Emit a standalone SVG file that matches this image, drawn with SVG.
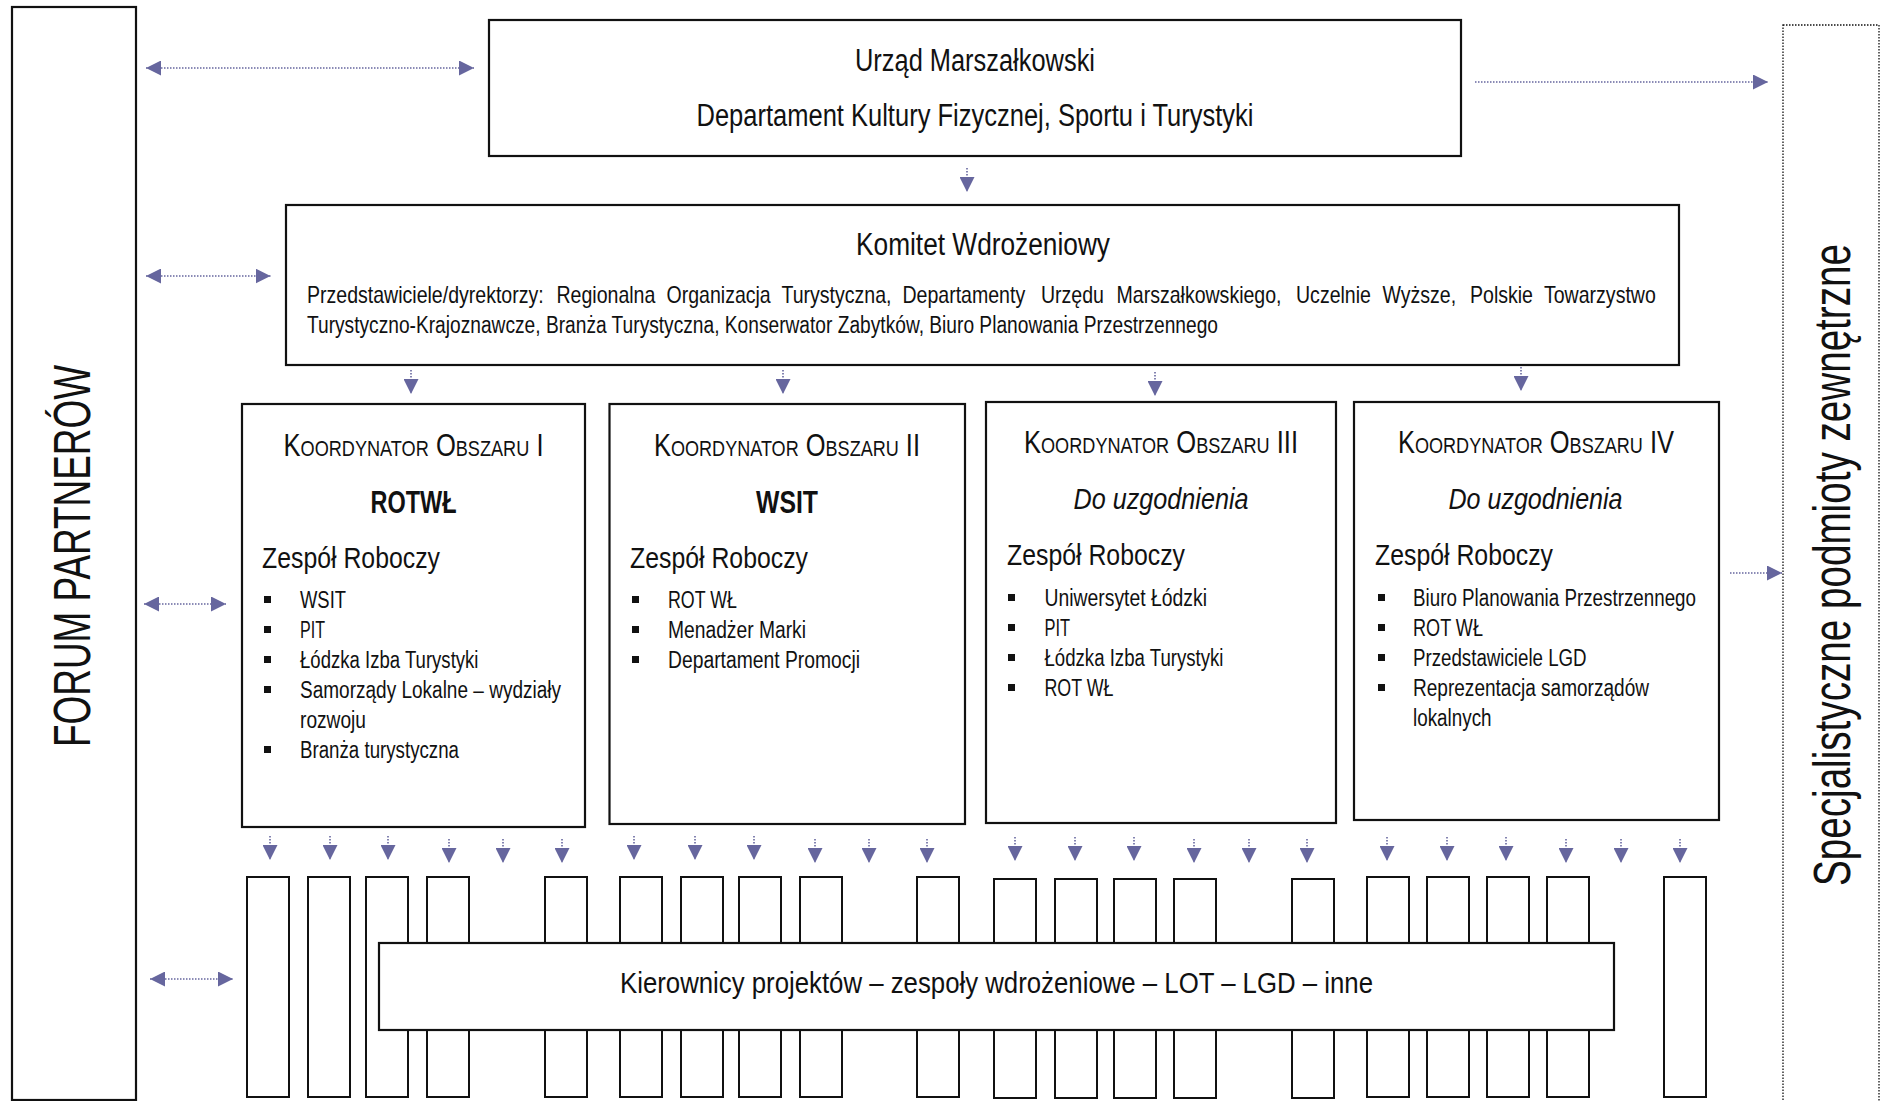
<svg xmlns="http://www.w3.org/2000/svg" width="1883" height="1101" viewBox="0 0 1883 1101">
<style>
  .box { fill: #fff; stroke: #111; stroke-width: 2.2; }
  .bar { fill: #fff; stroke: #111; stroke-width: 2; }
  .t { font-family: "Liberation Sans Narrow", "Liberation Sans", Arial, sans-serif; fill: #111; }
  .sc { font-variant: small-caps; font-size: 31px; }
  .p { font-size: 23px; }
  .v { font-family: "Liberation Sans Narrow", "Liberation Sans", Arial, sans-serif; fill: #111; font-size: 51px; }
  .c { stroke: #66669e; stroke-width: 1.6; stroke-dasharray: 1.5 1.5; fill: none; }
  .bul { fill: #111; }
</style>
<defs>
  <marker id="ah" viewBox="0 0 15 15" refX="15" refY="7.5" markerWidth="15" markerHeight="15" markerUnits="userSpaceOnUse" orient="auto-start-reverse">
    <path d="M0,0 L15,7.5 L0,15 z" fill="#66669e"/>
  </marker>
</defs>

<g id="forum">
  <rect class="box" x="12" y="7" width="124" height="1093" stroke-width="2"/>
  <text class="v" transform="translate(90,747) rotate(-90)" x="0" y="0" textLength="382" lengthAdjust="spacingAndGlyphs">FORUM PARTNERÓW</text>
</g>

<g id="specjalistyczne">
  <rect x="1783" y="25" width="96" height="1085" fill="none" stroke="#111" stroke-width="1.3" stroke-dasharray="1.5 1.5"/>
  <text class="v" transform="translate(1850,886) rotate(-90)" x="0" y="0" textLength="642" lengthAdjust="spacingAndGlyphs">Specjalistyczne podmioty zewnętrzne</text>
</g>

<g id="urzad">
  <rect class="box" x="489" y="20" width="972" height="136"/>
  <text class="t" x="975" y="71" font-size="31" text-anchor="middle" textLength="240" lengthAdjust="spacingAndGlyphs">Urząd Marszałkowski</text>
  <text class="t" x="975" y="126" font-size="31" text-anchor="middle" textLength="557" lengthAdjust="spacingAndGlyphs">Departament Kultury Fizycznej, Sportu i Turystyki</text>
</g>

<g id="komitet">
  <rect class="box" x="286" y="205" width="1393" height="160"/>
  <text class="t" x="983" y="255" font-size="31" text-anchor="middle" textLength="254" lengthAdjust="spacingAndGlyphs">Komitet Wdrożeniowy</text>
  <g transform="translate(0,303) scale(0.85,1)">
    <text class="t p" x="361.18" y="0">Przedstawiciele/dyrektorzy:</text>
    <text class="t p" x="654.71" y="0">Regionalna</text>
    <text class="t p" x="784.12" y="0">Organizacja</text>
    <text class="t p" x="919.41" y="0">Turystyczna,</text>
    <text class="t p" x="1061.76" y="0">Departamenty</text>
    <text class="t p" x="1224.71" y="0">Urzędu</text>
    <text class="t p" x="1313.53" y="0">Marszałkowskiego,</text>
    <text class="t p" x="1524.71" y="0">Uczelnie</text>
    <text class="t p" x="1626.47" y="0">Wyższe,</text>
    <text class="t p" x="1729.41" y="0">Polskie</text>
    <text class="t p" x="1816.47" y="0">Towarzystwo</text>
  </g>
  <text class="t p" x="307" y="333" textLength="911" lengthAdjust="spacingAndGlyphs">Turystyczno-Krajoznawcze, Branża Turystyczna,  Konserwator Zabytków, Biuro Planowania Przestrzennego</text>
</g>

<g id="koordynator1">
  <rect class="box" x="242" y="404" width="343" height="423"/>
  <text class="t sc" x="413.5" y="456" text-anchor="middle" textLength="260" lengthAdjust="spacingAndGlyphs">Koordynator Obszaru I</text>
  <text class="t" x="413.5" y="513" text-anchor="middle" font-size="31" font-weight="bold" textLength="86" lengthAdjust="spacingAndGlyphs">ROTWŁ</text>
  <text class="t" x="262" y="568" font-size="30" textLength="178" lengthAdjust="spacingAndGlyphs">Zespół Roboczy</text>
  <rect class="bul" x="264" y="596" width="7" height="7"/>
  <text class="t p" x="300" y="608" textLength="46" lengthAdjust="spacingAndGlyphs">WSIT</text>
  <rect class="bul" x="264" y="626" width="7" height="7"/>
  <text class="t p" x="300" y="638" textLength="25" lengthAdjust="spacingAndGlyphs">PIT</text>
  <rect class="bul" x="264" y="656" width="7" height="7"/>
  <text class="t p" x="300" y="668" textLength="178.5" lengthAdjust="spacingAndGlyphs">Łódzka Izba Turystyki</text>
  <rect class="bul" x="264" y="686" width="7" height="7"/>
  <text class="t p" x="300" y="698" textLength="261" lengthAdjust="spacingAndGlyphs">Samorządy Lokalne – wydziały</text>
  <text class="t p" x="300" y="728" textLength="66" lengthAdjust="spacingAndGlyphs">rozwoju</text>
  <rect class="bul" x="264" y="746" width="7" height="7"/>
  <text class="t p" x="300" y="758" textLength="159" lengthAdjust="spacingAndGlyphs">Branża turystyczna</text>
</g>

<g id="koordynator2">
  <rect class="box" x="609.5" y="404" width="355.5" height="420"/>
  <text class="t sc" x="787" y="456" text-anchor="middle" textLength="266" lengthAdjust="spacingAndGlyphs">Koordynator Obszaru II</text>
  <text class="t" x="787" y="513" text-anchor="middle" font-size="31" font-weight="bold" textLength="62" lengthAdjust="spacingAndGlyphs">WSIT</text>
  <text class="t" x="630" y="568" font-size="30" textLength="178" lengthAdjust="spacingAndGlyphs">Zespół Roboczy</text>
  <rect class="bul" x="632" y="596" width="7" height="7"/>
  <text class="t p" x="668" y="608" textLength="69" lengthAdjust="spacingAndGlyphs">ROT WŁ</text>
  <rect class="bul" x="632" y="626" width="7" height="7"/>
  <text class="t p" x="668" y="638" textLength="138" lengthAdjust="spacingAndGlyphs">Menadżer Marki</text>
  <rect class="bul" x="632" y="656" width="7" height="7"/>
  <text class="t p" x="668" y="668" textLength="192" lengthAdjust="spacingAndGlyphs">Departament Promocji</text>
</g>

<g id="koordynator3">
  <rect class="box" x="986" y="402" width="350" height="421"/>
  <text class="t sc" x="1161" y="453" text-anchor="middle" textLength="274" lengthAdjust="spacingAndGlyphs">Koordynator Obszaru III</text>
  <text class="t" x="1161" y="509" text-anchor="middle" font-size="30" font-style="italic" textLength="175" lengthAdjust="spacingAndGlyphs">Do uzgodnienia</text>
  <text class="t" x="1007" y="565" font-size="30" textLength="178" lengthAdjust="spacingAndGlyphs">Zespół Roboczy</text>
  <rect class="bul" x="1008" y="594" width="7" height="7"/>
  <text class="t p" x="1044.5" y="606" textLength="162.5" lengthAdjust="spacingAndGlyphs">Uniwersytet Łódzki</text>
  <rect class="bul" x="1008" y="624" width="7" height="7"/>
  <text class="t p" x="1044.5" y="636" textLength="25.6" lengthAdjust="spacingAndGlyphs">PIT</text>
  <rect class="bul" x="1008" y="654" width="7" height="7"/>
  <text class="t p" x="1044.5" y="666" textLength="179" lengthAdjust="spacingAndGlyphs">Łódzka Izba Turystyki</text>
  <rect class="bul" x="1008" y="684" width="7" height="7"/>
  <text class="t p" x="1044.5" y="696" textLength="69" lengthAdjust="spacingAndGlyphs">ROT WŁ</text>
</g>

<g id="koordynator4">
  <rect class="box" x="1354" y="402" width="365" height="418"/>
  <text class="t sc" x="1536" y="453" text-anchor="middle" textLength="276" lengthAdjust="spacingAndGlyphs">Koordynator Obszaru IV</text>
  <text class="t" x="1535.5" y="509" text-anchor="middle" font-size="30" font-style="italic" textLength="174" lengthAdjust="spacingAndGlyphs">Do uzgodnienia</text>
  <text class="t" x="1375" y="565" font-size="30" textLength="178" lengthAdjust="spacingAndGlyphs">Zespół Roboczy</text>
  <rect class="bul" x="1378" y="594" width="7" height="7"/>
  <text class="t p" x="1413" y="606" textLength="283" lengthAdjust="spacingAndGlyphs">Biuro Planowania Przestrzennego</text>
  <rect class="bul" x="1378" y="624" width="7" height="7"/>
  <text class="t p" x="1413" y="636" textLength="70" lengthAdjust="spacingAndGlyphs">ROT WŁ</text>
  <rect class="bul" x="1378" y="654" width="7" height="7"/>
  <text class="t p" x="1413" y="666" textLength="173.6" lengthAdjust="spacingAndGlyphs">Przedstawiciele LGD</text>
  <rect class="bul" x="1378" y="684" width="7" height="7"/>
  <text class="t p" x="1413" y="696" textLength="236" lengthAdjust="spacingAndGlyphs">Reprezentacja samorządów</text>
  <text class="t p" x="1413" y="726" textLength="78.6" lengthAdjust="spacingAndGlyphs">lokalnych</text>
</g>

<g id="zespoly">
  <rect class="bar" x="247" y="877" width="42" height="220"/>
  <rect class="bar" x="308" y="877" width="42" height="220"/>
  <rect class="bar" x="366" y="877" width="42" height="220"/>
  <rect class="bar" x="427" y="877" width="42" height="220"/>
  <rect class="bar" x="545" y="877" width="42" height="220"/>
  <rect class="bar" x="620" y="877" width="42" height="220"/>
  <rect class="bar" x="681" y="877" width="42" height="220"/>
  <rect class="bar" x="739" y="877" width="42" height="220"/>
  <rect class="bar" x="800" y="877" width="42" height="220"/>
  <rect class="bar" x="917" y="877" width="42" height="220"/>
  <rect class="bar" x="994" y="879" width="42" height="219"/>
  <rect class="bar" x="1055" y="879" width="42" height="219"/>
  <rect class="bar" x="1114" y="879" width="42" height="219"/>
  <rect class="bar" x="1174" y="879" width="42" height="219"/>
  <rect class="bar" x="1292" y="879" width="42" height="219"/>
  <rect class="bar" x="1367" y="877" width="42" height="220"/>
  <rect class="bar" x="1427" y="877" width="42" height="220"/>
  <rect class="bar" x="1487" y="877" width="42" height="220"/>
  <rect class="bar" x="1547" y="877" width="42" height="220"/>
  <rect class="bar" x="1664" y="877" width="42" height="220"/>
</g>

<g id="kierownicy">
  <rect class="box" x="379" y="943" width="1235" height="87"/>
  <text class="t" x="996.5" y="993" text-anchor="middle" font-size="30" textLength="753" lengthAdjust="spacingAndGlyphs">Kierownicy projektów – zespoły wdrożeniowe – LOT – LGD – inne</text>
</g>

<g id="connectors">
  <line class="c" x1="146" y1="68" x2="474" y2="68" marker-start="url(#ah)" marker-end="url(#ah)"/>
  <line class="c" x1="146" y1="276" x2="270.5" y2="276" marker-start="url(#ah)" marker-end="url(#ah)"/>
  <line class="c" x1="144" y1="604" x2="226" y2="604" marker-start="url(#ah)" marker-end="url(#ah)"/>
  <line class="c" x1="150" y1="979" x2="233" y2="979" marker-start="url(#ah)" marker-end="url(#ah)"/>
  <line class="c" x1="1475" y1="82" x2="1768" y2="82" marker-end="url(#ah)"/>
  <line class="c" x1="1730" y1="573" x2="1782" y2="573" marker-end="url(#ah)"/>
  <line class="c" x1="967" y1="168" x2="967" y2="192" marker-end="url(#ah)"/>
  <line class="c" x1="411" y1="370" x2="411" y2="394" marker-end="url(#ah)"/>
  <line class="c" x1="783" y1="370" x2="783" y2="394" marker-end="url(#ah)"/>
  <line class="c" x1="1155" y1="372" x2="1155" y2="396" marker-end="url(#ah)"/>
  <line class="c" x1="1521" y1="367" x2="1521" y2="391" marker-end="url(#ah)"/>

  <line class="c" x1="270" y1="836" x2="270" y2="860" marker-end="url(#ah)"/>
  <line class="c" x1="330" y1="836" x2="330" y2="860" marker-end="url(#ah)"/>
  <line class="c" x1="388" y1="836" x2="388" y2="860" marker-end="url(#ah)"/>
  <line class="c" x1="449" y1="839" x2="449" y2="863" marker-end="url(#ah)"/>
  <line class="c" x1="503" y1="839" x2="503" y2="863" marker-end="url(#ah)"/>
  <line class="c" x1="562" y1="839" x2="562" y2="863" marker-end="url(#ah)"/>

  <line class="c" x1="634" y1="836" x2="634" y2="860" marker-end="url(#ah)"/>
  <line class="c" x1="695" y1="836" x2="695" y2="860" marker-end="url(#ah)"/>
  <line class="c" x1="754" y1="836" x2="754" y2="860" marker-end="url(#ah)"/>
  <line class="c" x1="815" y1="839" x2="815" y2="863" marker-end="url(#ah)"/>
  <line class="c" x1="869" y1="839" x2="869" y2="863" marker-end="url(#ah)"/>
  <line class="c" x1="927" y1="839" x2="927" y2="863" marker-end="url(#ah)"/>

  <line class="c" x1="1015" y1="837" x2="1015" y2="861" marker-end="url(#ah)"/>
  <line class="c" x1="1075" y1="837" x2="1075" y2="861" marker-end="url(#ah)"/>
  <line class="c" x1="1134" y1="837" x2="1134" y2="861" marker-end="url(#ah)"/>
  <line class="c" x1="1194" y1="839" x2="1194" y2="863" marker-end="url(#ah)"/>
  <line class="c" x1="1249" y1="839" x2="1249" y2="863" marker-end="url(#ah)"/>
  <line class="c" x1="1307" y1="839" x2="1307" y2="863" marker-end="url(#ah)"/>

  <line class="c" x1="1387" y1="837" x2="1387" y2="861" marker-end="url(#ah)"/>
  <line class="c" x1="1447" y1="837" x2="1447" y2="861" marker-end="url(#ah)"/>
  <line class="c" x1="1506" y1="837" x2="1506" y2="861" marker-end="url(#ah)"/>
  <line class="c" x1="1566" y1="839" x2="1566" y2="863" marker-end="url(#ah)"/>
  <line class="c" x1="1621" y1="839" x2="1621" y2="863" marker-end="url(#ah)"/>
  <line class="c" x1="1680" y1="839" x2="1680" y2="863" marker-end="url(#ah)"/>
</g>
</svg>
